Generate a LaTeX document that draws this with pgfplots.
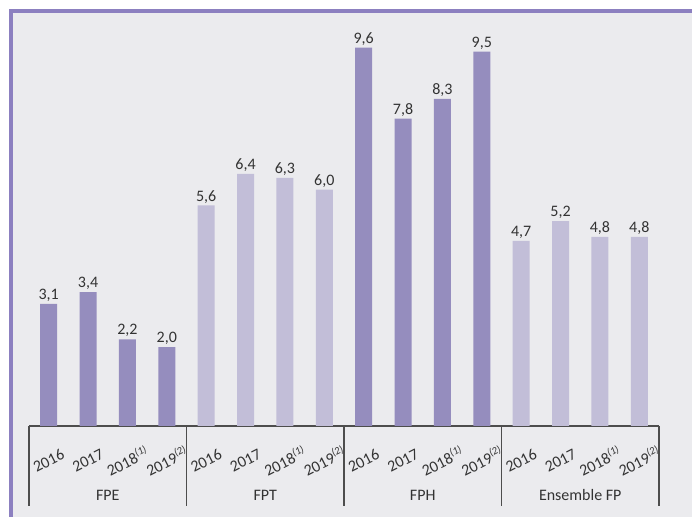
\documentclass[border=0pt]{standalone}
\usepackage{fontspec}
\setmainfont{Carlito}
\usepackage{pgfplots}
\pgfplotsset{compat=1.18}
\definecolor{bggray}{HTML}{EBEBEE}
\definecolor{border}{HTML}{8C80C0}
\definecolor{darkbar}{HTML}{958DBE}
\definecolor{lightbar}{HTML}{C2BED8}
\definecolor{txt}{HTML}{333333}
\definecolor{linec}{HTML}{4D4D4D}
\begin{document}
\begin{tikzpicture}[font=\fontsize{12}{14}\selectfont, text=txt]
\useasboundingbox (0,0) rectangle (519pt,387.75pt);
\fill[white] (0,0) rectangle (519pt,387.75pt);
\fill[bggray] (8.25pt,0) rectangle (519pt,379.5pt);
\draw[border, line width=2.5pt] (8.25pt,0) -- (8.25pt,379.5pt) -- (519pt,379.5pt);
\begin{axis}[
  at={(21.75pt,68.25pt)}, anchor=south west,
  scale only axis, width=472.5pt, height=310.3pt,
  xmin=-0.5, xmax=15.5, ymin=0, ymax=10.5,
  axis x line*=bottom, axis y line=none,
  x axis line style={linec, line width=0.8pt, -},
  xtick={0,...,15},
  xticklabels={2016,2017,2018\textsuperscript{\itshape(1)},2019\textsuperscript{\itshape(2)},
               2016,2017,2018\textsuperscript{\itshape(1)},2019\textsuperscript{\itshape(2)},
               2016,2017,2018\textsuperscript{\itshape(1)},2019\textsuperscript{\itshape(2)},
               2016,2017,2018\textsuperscript{\itshape(1)},2019\textsuperscript{\itshape(2)}},
  major tick length=0pt,
  xticklabel style={yshift=-26pt, rotate=27, anchor=center, text=txt, inner sep=0pt, font=\fontsize{12}{14}\selectfont},
  ybar, bar width=12.75pt, bar shift=0pt,
  nodes near coords={\pgfmathprintnumber[fixed,fixed zerofill,precision=1,use comma]{\pgfplotspointmeta}},
  nodes near coords style={text=txt, inner sep=1.5pt, font=\fontsize{12}{14}\selectfont},
  /pgf/number format/assume math mode=true,
  clip=false,
]
\addplot[fill=darkbar, draw=none] coordinates {(0,3.1)(1,3.4)(2,2.2)(3,2.0)(8,9.6)(9,7.8)(10,8.3)(11,9.5)};
\addplot[fill=lightbar, draw=none] coordinates {(4,5.6)(5,6.4)(6,6.3)(7,6.0)(12,4.7)(13,5.2)(14,4.8)(15,4.8)};
\draw[linec, line width=0.8pt] (axis cs:-0.5,0) -- ++(0pt,-60pt);
\draw[linec, line width=0.8pt] (axis cs:3.5,0) -- ++(0pt,-60pt);
\draw[linec, line width=0.8pt] (axis cs:7.5,0) -- ++(0pt,-60pt);
\draw[linec, line width=0.8pt] (axis cs:11.5,0) -- ++(0pt,-60pt);
\draw[linec, line width=0.8pt] (axis cs:15.5,0) -- ++(0pt,-60pt);
\node[text=txt, yshift=-52pt] at (axis cs:1.5,0) {FPE};
\node[text=txt, yshift=-52pt] at (axis cs:5.5,0) {FPT};
\node[text=txt, yshift=-52pt] at (axis cs:9.5,0) {FPH};
\node[text=txt, yshift=-52pt] at (axis cs:13.5,0) {Ensemble FP};
\end{axis}
\end{tikzpicture}
\end{document}
